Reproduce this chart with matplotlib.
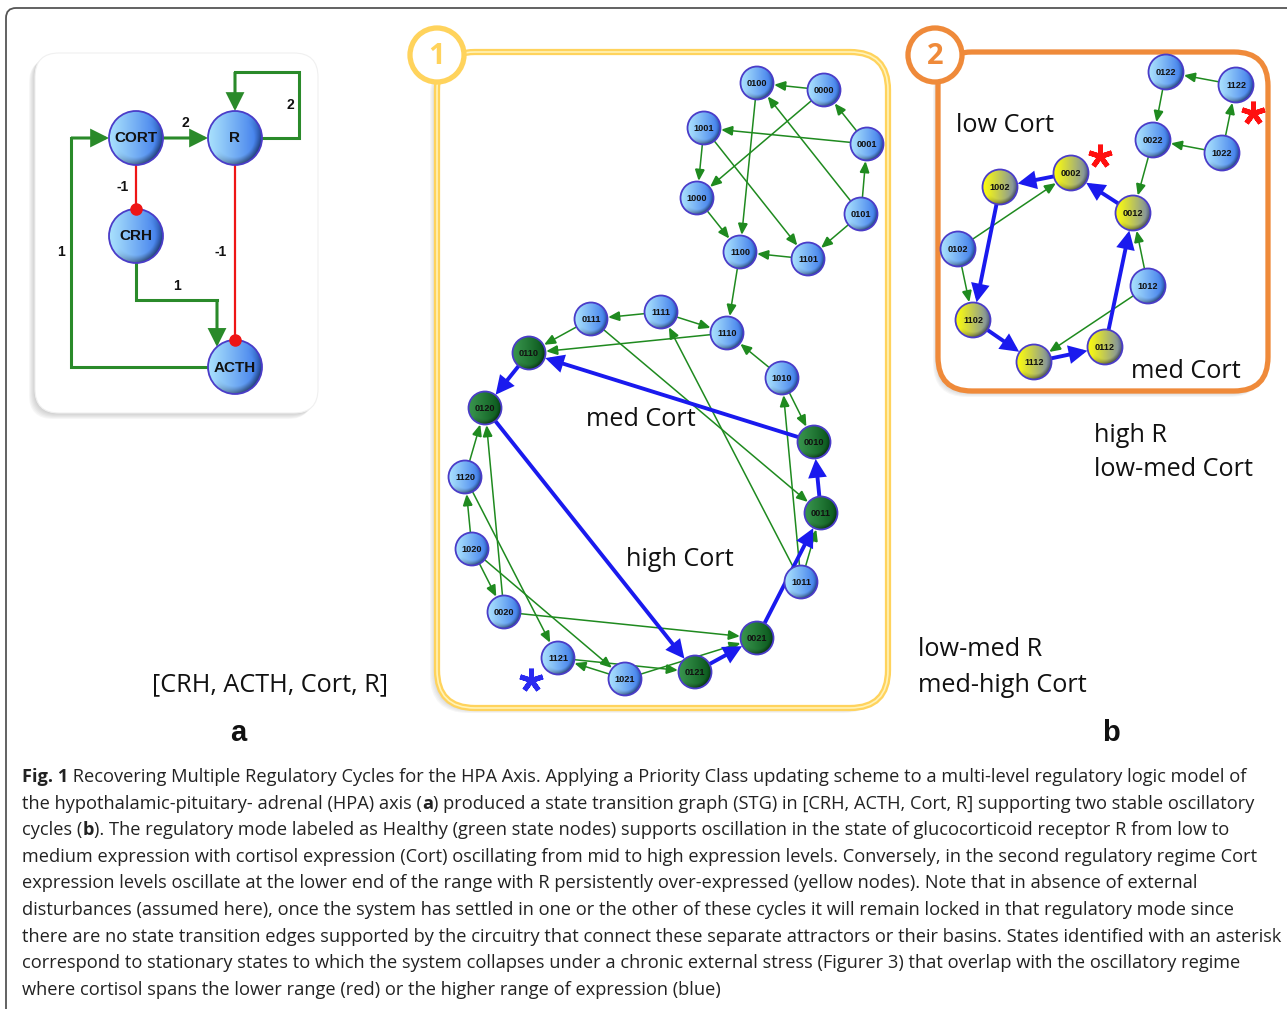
import numpy as np
import matplotlib
matplotlib.use('Agg')
import matplotlib.pyplot as plt
from matplotlib.patches import Circle, FancyBboxPatch, FancyArrowPatch

W, H = 1287, 1009

# ---------------- data ----------------
# Panel a: regulatory network (node centres in pixels)
A_NODES = ['CORT', 'R', 'CRH', 'ACTH']
A_X = [136, 235, 136, 235]
A_Y = [138, 138, 236, 367]
A_EDGE_LABELS = ['2', '2', '-1', '-1', '1', '1']
A_EDGE_LABEL_X = [185, 290, 123, 221, 177, 61]
A_EDGE_LABEL_Y = [123, 105, 187, 252, 286, 252]

# Panel 1 (healthy regime) state nodes
P1_NODES = ['0100', '0000', '1001', '0001', '1000', '0101', '1100', '1101',
            '0111', '1111', '1110', '0110', '1010', '0120', '0010', '1120',
            '0011', '1020', '1011', '0020', '0021', '1121', '1021', '0121']
P1_X = [757, 824, 704, 867, 697, 861, 740, 808,
        591, 661, 727, 529, 782, 485, 814, 465,
        821, 472, 801, 504, 757, 558, 625, 695]
P1_Y = [83, 90, 128, 144, 198, 214, 252, 259,
        319, 312, 333, 353, 378, 408, 442, 477,
        513, 549, 582, 612, 638, 658, 679, 672]
P1_CYCLE = ['0110', '0120', '0010', '0011', '0021', '0121']
P1_GREEN_EDGES = [('0000', '0100'), ('0000', '1000'), ('0001', '0000'), ('0001', '1001'),
                  ('1001', '1000'), ('1001', '1101'), ('0101', '0001'), ('0101', '0100'),
                  ('0101', '1101'), ('1000', '1100'), ('0100', '1100'), ('1101', '1100'),
                  ('1100', '1110'), ('1111', '0111'), ('1111', '1110'), ('0111', '0110'),
                  ('1110', '0110'), ('1010', '1110'), ('1010', '0010'), ('0111', '0011'),
                  ('1011', '1111'), ('1011', '1010'), ('1011', '0011'), ('1120', '0120'),
                  ('0020', '0120'), ('1020', '1120'), ('1020', '0020'), ('1020', '1021'),
                  ('1120', '1121'), ('0020', '0021'), ('1021', '1121'), ('1121', '0121'),
                  ('1021', '0021')]
P1_BLUE_EDGES = [('0010', '0110'), ('0110', '0120'), ('0120', '0121'),
                 ('0121', '0021'), ('0021', '0011'), ('0011', '0010')]

# Panel 2 (second regime) state nodes
P2_NODES = ['0122', '1122', '0022', '1022', '0002', '1002', '0012', '0102',
            '1012', '1102', '0112', '1112']
P2_X = [1166, 1236, 1153, 1222, 1071, 1000, 1133, 958, 1148, 973, 1105, 1034]
P2_Y = [72, 85, 140, 153, 173, 187, 213, 249, 286, 320, 347, 362]
P2_CYCLE = ['0002', '1002', '0012', '1102', '0112', '1112']
P2_GREEN_EDGES = [('1122', '0122'), ('1022', '1122'), ('1022', '0022'), ('0122', '0022'),
                  ('0022', '0012'), ('1012', '0012'), ('1012', '1112'), ('0102', '0002'),
                  ('0102', '1102')]
P2_BLUE_EDGES = [('0012', '0002'), ('0002', '1002'), ('1002', '1102'),
                 ('1102', '1112'), ('1112', '0112'), ('0112', '0012')]

CAPTION = [
    [("Fig. 1", 'bold'), (" Recovering Multiple Regulatory Cycles for the HPA Axis. Applying a Priority Class updating scheme to a multi-level regulatory logic model of", 'normal')],
    [("the hypothalamic-pituitary- adrenal (HPA) axis (", 'normal'), ("a", 'bold'), (") produced a state transition graph (STG) in [CRH, ACTH, Cort, R] supporting two stable oscillatory", 'normal')],
    [("cycles (", 'normal'), ("b", 'bold'), ("). The regulatory mode labeled as Healthy (green state nodes) supports oscillation in the state of glucocorticoid receptor R from low to", 'normal')],
    [("medium expression with cortisol expression (Cort) oscillating from mid to high expression levels. Conversely, in the second regulatory regime Cort", 'normal')],
    [("expression levels oscillate at the lower end of the range with R persistently over-expressed (yellow nodes). Note that in absence of external", 'normal')],
    [("disturbances (assumed here), once the system has settled in one or the other of these cycles it will remain locked in that regulatory mode since", 'normal')],
    [("there are no state transition edges supported by the circuitry that connect these separate attractors or their basins. States identified with an asterisk", 'normal')],
    [("correspond to stationary states to which the system collapses under a chronic external stress (Figurer 3) that overlap with the oscillatory regime", 'normal')],
    [("where cortisol spans the lower range (red) or the higher range of expression (blue)", 'normal')],
]

# ---------------- styles ----------------
GREEN = '#1f8a1f'
BLUE = '#1a1aee'
RED = '#ee1515'
GOLD = '#ffd35c'
ORANGE = '#ef8a3a'
NODE_EDGE = '#4a3cc8'
GRAD = {
    'blue': ((0.66, 0.88, 0.99), (0.22, 0.46, 0.92)),
    'green': ((0.22, 0.58, 0.30), (0.03, 0.33, 0.10)),
    'yellow': ((0.99, 0.99, 0.05), (0.45, 0.52, 0.70)),
}
LABEL_FONT = ['Open Sans', 'DejaVu Sans']
BOLD_FONT = ['Liberation Sans', 'DejaVu Sans']
BIG = 18.2

fig = plt.figure(figsize=(W / 100, H / 100), dpi=100)
ax = fig.add_axes([0, 0, 1, 1])
ax.set_xlim(0, W)
ax.set_ylim(H, 0)
ax.axis('off')


def node_img(kind, n=60):
    xx, yy = np.meshgrid(np.linspace(-1, 1, n), np.linspace(-1, 1, n))
    cl, cr = GRAD[kind]
    t = np.clip((xx + 1) / 2, 0, 1)[..., None] ** 1.1
    img = np.array(cl) * (1 - t) + np.array(cr) * t
    rr = np.sqrt(xx ** 2 + yy ** 2)
    rim = np.clip((rr - 0.72) / 0.28, 0, 1) * np.clip((xx + yy + 0.2) / 1.4, 0, 1)
    img = img * (1 - 0.5 * rim[..., None])
    return np.clip(img, 0, 1)


def draw_node(x, y, r, label, kind, fs, fam=BOLD_FONT):
    circ = Circle((x, y), r, facecolor='none', edgecolor=NODE_EDGE, lw=1.3, zorder=4)
    ax.add_patch(circ)
    im = ax.imshow(node_img(kind), extent=(x - r, x + r, y + r, y - r), origin='upper',
                   interpolation='bilinear', zorder=3, aspect='auto')
    im.set_clip_path(circ)
    ax.text(x, y + 0.5, label, ha='center', va='center', fontsize=fs, fontweight='bold',
            family=fam, color='#111111', zorder=5)


def arrow(p0, p1, color, lw, hl, hw, z=2):
    a = FancyArrowPatch(p0, p1, arrowstyle=f'-|>,head_length={hl},head_width={hw}',
                        mutation_scale=1, color=color, lw=lw, shrinkA=0, shrinkB=0,
                        zorder=z, joinstyle='miter', capstyle='butt')
    ax.add_patch(a)


def edge_between(pa, pb, r, color, lw, hl, hw, z=2):
    pa = np.array(pa, float)
    pb = np.array(pb, float)
    u = (pb - pa) / np.linalg.norm(pb - pa)
    arrow(tuple(pa + u * r), tuple(pb - u * (r + 0.5)), color, lw, hl, hw, z)


def rbox(x0, y0, x1, y1, rad, edge, lw, face='white', shadow=(-4, 4), z=1):
    for k in range(6, 0, -1):
        s = FancyBboxPatch((x0 + shadow[0] * k / 6, y0 + shadow[1] * k / 6), x1 - x0, y1 - y0,
                           boxstyle=f'round,pad=0,rounding_size={rad}', facecolor='#888888',
                           edgecolor='none', alpha=0.07, zorder=z)
        ax.add_patch(s)
    b = FancyBboxPatch((x0, y0), x1 - x0, y1 - y0, boxstyle=f'round,pad=0,rounding_size={rad}',
                       facecolor=face, edgecolor=edge, lw=lw, zorder=z + 0.1)
    ax.add_patch(b)


# ---------------- outer frame ----------------
ax.add_patch(FancyBboxPatch((6, 8), 1400, 1100, boxstyle='round,pad=0,rounding_size=10',
                            facecolor='white', edgecolor='#555555', lw=1.3, zorder=0))

# ---------------- panel a ----------------
rbox(35, 53, 318, 413, 24, '#f0f0f0', 0.8, shadow=(-6, 6))
apos = {n: (x, y) for n, x, y in zip(A_NODES, A_X, A_Y)}
RA = 27
gx_left = A_X[0] - 65
loop_x = A_X[1] + 64
loop_y = A_Y[1] - 66
mid_y = A_Y[2] + 64
ax_cort, ay_cort = apos['CORT']
ax_r, ay_r = apos['R']
ax_crh, ay_crh = apos['CRH']
ax_acth, ay_acth = apos['ACTH']
GLW = 2.2
AG = '#2a8a2a'
# ACTH -> CORT
ax.plot([ax_acth - RA, gx_left, gx_left], [ay_acth, ay_acth, ay_cort], color=AG, lw=GLW,
        zorder=2, solid_joinstyle='miter')
arrow((gx_left, ay_cort), (ax_cort - RA, ay_cort), AG, GLW, 10, 5)
# CORT -> R
arrow((ax_cort + RA, ay_cort), (ax_r - RA, ay_r), AG, GLW, 10, 5)
# R self loop
ax.plot([ax_r + RA, loop_x, loop_x, ax_r], [ay_r, ay_r, loop_y, loop_y], color=AG, lw=GLW,
        zorder=2, solid_joinstyle='miter')
arrow((ax_r, loop_y), (ax_r, ay_r - RA), AG, GLW, 10, 5)
# CRH -> ACTH
dx = 18
ax.plot([ax_crh, ax_crh, ax_acth - dx], [ay_crh + RA, mid_y, mid_y], color=AG, lw=GLW,
        zorder=2, solid_joinstyle='miter')
arrow((ax_acth - dx, mid_y), (ax_acth - dx, ay_acth - np.sqrt(RA ** 2 - dx ** 2)), AG, GLW, 10, 5)
# inhibitions
ax.plot([ax_cort, ax_crh], [ay_cort + RA, ay_crh - RA], color=RED, lw=1.6, zorder=2)
ax.plot([ax_crh], [ay_crh - RA], 'o', color=RED, ms=8, zorder=6)
ax.plot([ax_r, ax_acth], [ay_r + RA, ay_acth - RA], color=RED, lw=1.6, zorder=2)
ax.plot([ax_acth], [ay_acth - RA], 'o', color=RED, ms=8, zorder=6)
for n, x, y in zip(A_NODES, A_X, A_Y):
    draw_node(x, y, RA, n, 'blue', 11)
for s, x, y in zip(A_EDGE_LABELS, A_EDGE_LABEL_X, A_EDGE_LABEL_Y):
    ax.text(x, y, s, ha='center', va='center', fontsize=10, fontweight='bold', family=BOLD_FONT,
            color='#111111', zorder=5)

ax.text(270, 685, '[CRH, ACTH, Cort, R]', ha='center', va='center', fontsize=BIG,
        family=LABEL_FONT, color='#111111')
ax.text(238, 733, 'a', ha='center', va='center', fontsize=21, fontweight='bold',
        family=BOLD_FONT, color='#111111')
ax.text(1111, 733, 'b', ha='center', va='center', fontsize=21, fontweight='bold',
        family=BOLD_FONT, color='#111111')

# ---------------- panel 1 ----------------
rbox(437, 52, 888, 708, 38, GOLD, 4.5, shadow=(-7, 5))
ax.add_patch(FancyBboxPatch((437, 52), 451, 656, boxstyle='round,pad=0,rounding_size=38',
                            facecolor='none', edgecolor='#fff3b8', lw=1.2, zorder=1.3))
ax.add_patch(Circle((437, 55), 27, facecolor='white', edgecolor=GOLD, lw=3.8, zorder=6))
ax.text(437, 56, '1', ha='center', va='center', fontsize=21, fontweight='bold',
        family=LABEL_FONT, color=GOLD, zorder=7)
R1 = 16.5
p1 = {n: (x, y) for n, x, y in zip(P1_NODES, P1_X, P1_Y)}
for a, b in P1_GREEN_EDGES:
    edge_between(p1[a], p1[b], R1, GREEN, 1.1, 7, 3)
for a, b in P1_BLUE_EDGES:
    edge_between(p1[a], p1[b], R1, BLUE, 2.8, 9, 4.5, z=2.5)
for n, x, y in zip(P1_NODES, P1_X, P1_Y):
    draw_node(x, y, R1, n, 'green' if n in P1_CYCLE else 'blue', 6.6)
ax.text(641, 420, 'med Cort', ha='center', va='center', fontsize=BIG, family=LABEL_FONT,
        color='#111111', zorder=6)
ax.text(680, 559, 'high Cort', ha='center', va='center', fontsize=BIG, family=LABEL_FONT,
        color='#111111', zorder=6)
ax.plot([531], [680], marker=(5, 2, 0), ms=17, mew=3.6, color='#2a2af0', zorder=6)

# ---------------- panel 2 ----------------
rbox(938, 52, 1268, 391, 34, ORANGE, 3.8, shadow=(-5, 6))
ax.add_patch(Circle((935, 55), 27, facecolor='white', edgecolor=ORANGE, lw=3.8, zorder=6))
ax.text(935, 56, '2', ha='center', va='center', fontsize=21, fontweight='bold',
        family=LABEL_FONT, color=ORANGE, zorder=7)
R2 = 17.5
p2 = {n: (x, y) for n, x, y in zip(P2_NODES, P2_X, P2_Y)}
for a, b in P2_GREEN_EDGES:
    edge_between(p2[a], p2[b], R2, GREEN, 1.1, 7, 3)
for a, b in P2_BLUE_EDGES:
    edge_between(p2[a], p2[b], R2, BLUE, 2.8, 9, 4.5, z=2.5)
for n, x, y in zip(P2_NODES, P2_X, P2_Y):
    draw_node(x, y, R2, n, 'yellow' if n in P2_CYCLE else 'blue', 6.6)
ax.text(956, 126, 'low Cort', ha='left', va='center', fontsize=BIG, family=LABEL_FONT,
        color='#111111', zorder=6)
ax.text(1131, 371, 'med Cort', ha='left', va='center', fontsize=BIG, family=LABEL_FONT,
        color='#111111', zorder=6)
ax.plot([1100], [156], marker=(5, 2, 0), ms=17, mew=3.6, color='#ff1010', zorder=6)
ax.plot([1253], [113], marker=(5, 2, 0), ms=17, mew=3.6, color='#ff1010', zorder=6)

for s, x, y in [('high R', 1094, 435), ('low-med Cort', 1094, 470),
                ('low-med R', 918, 650), ('med-high Cort', 918, 685)]:
    ax.text(x, y, s, ha='left', va='center', fontsize=BIG, family=LABEL_FONT, color='#111111')

# ---------------- caption ----------------
renderer = fig.canvas.get_renderer()


def draw_line(segs, x0, y, fs, measure=False):
    x = x0
    arts = []
    for txt, wt in segs:
        t = ax.text(x, y, txt, ha='left', va='baseline', fontsize=fs, fontweight=wt,
                    family=LABEL_FONT, color='#222222')
        bb = t.get_window_extent(renderer)
        x = x + bb.width
        arts.append(t)
    if measure:
        for t in arts:
            t.remove()
    return x - x0


targets = [1263, 1255, 1235, 1261, 1196, 1235, 1271, 1237]
fs_cap = 12.0
for _ in range(3):
    ratios = []
    for segs, tgt in zip(CAPTION[:8], targets):
        w = draw_line(segs, 22, 0, fs_cap, measure=True)
        ratios.append((tgt - 22) / w)
    fs_cap = fs_cap * min(float(np.mean(ratios)), float(min(ratios)) * 1.01)
CAP_Y0 = 782
CAP_DY = 26.6
for i, segs in enumerate(CAPTION):
    draw_line(segs, 22, CAP_Y0 + i * CAP_DY, fs_cap)

ax.set_xlim(0, W)
ax.set_ylim(H, 0)
fig.savefig('out.png', dpi=100)
